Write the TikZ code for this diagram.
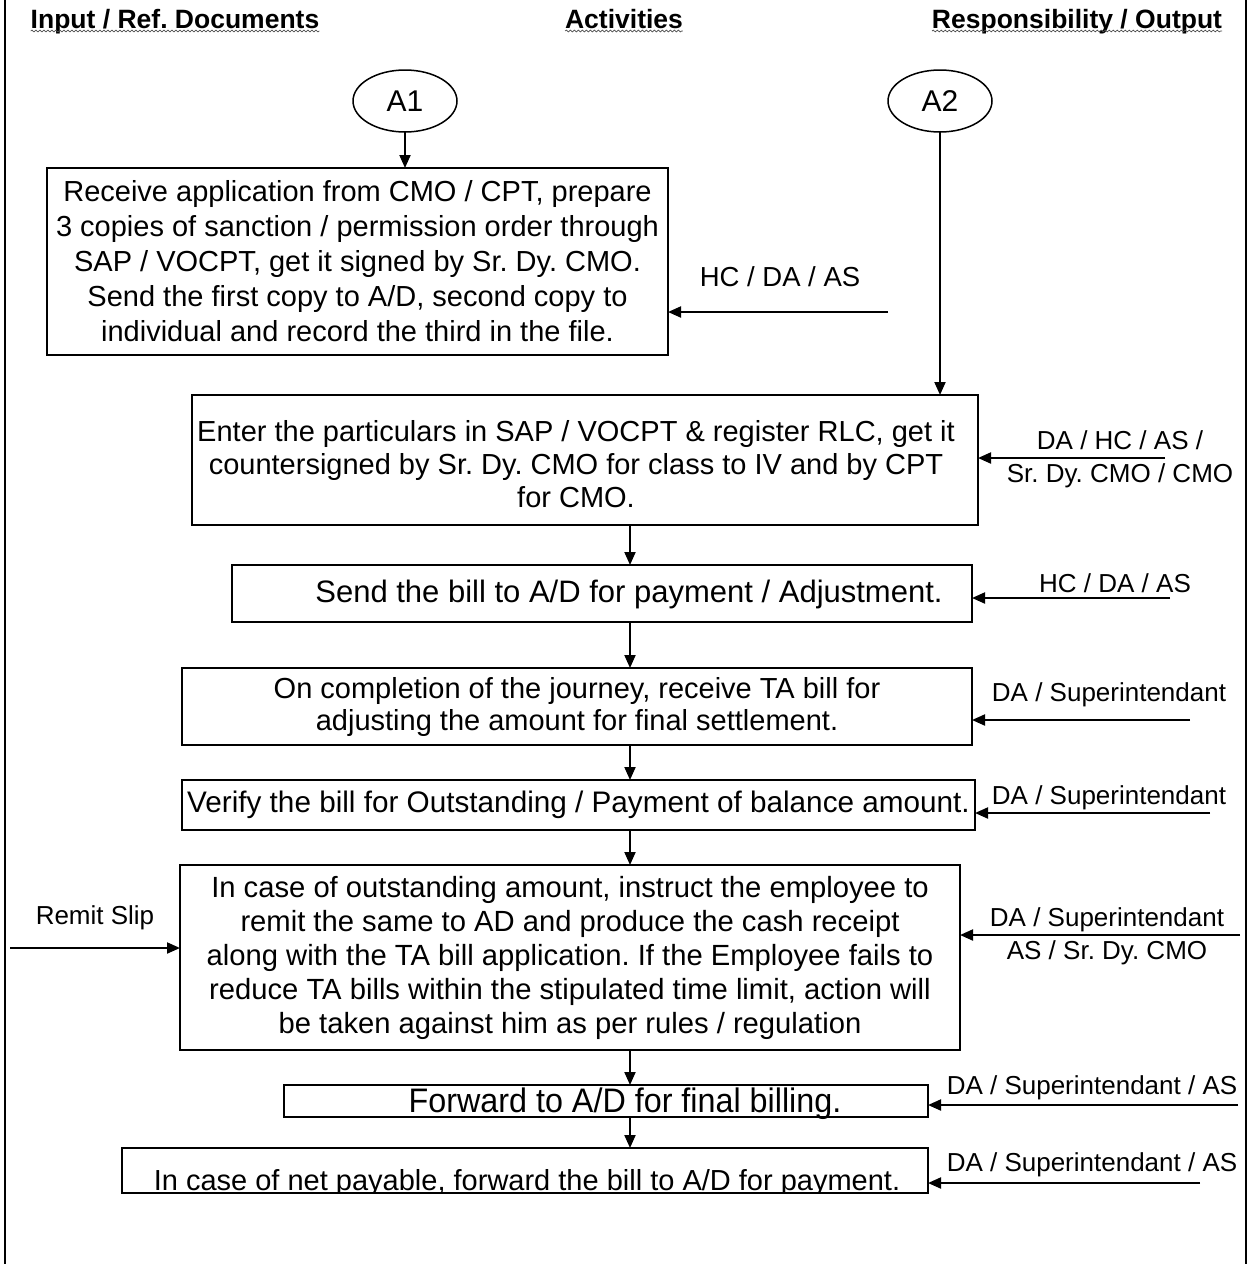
\documentclass[tikz,border=0pt]{standalone}
\usepackage{fontspec}
\setmainfont{Liberation Sans}
\newfontfamily\narrowsans{Liberation Sans}[FakeStretch=0.95]
\usetikzlibrary{arrows.meta,shapes.geometric,decorations.pathmorphing}

\begin{document}
\frenchspacing
\begin{tikzpicture}[x=1pt,y=-1pt,
  every node/.style={inner sep=0pt, outer sep=0pt},
  stepbox/.style={draw, line width=1.5pt, align=center, font=\fontsize{29}{33}\selectfont},
  steptext/.style={align=center, font=\fontsize{29}{33}\selectfont},
  lbl/.style={font=\fontsize{26}{33}\selectfont, align=center},
  hdr/.style={font=\bfseries\fontsize{26.5}{30}\selectfont},
  arr/.style={line width=2pt, -{Triangle[length=13pt,width=11pt]}},
  conn/.style={draw, ellipse, line width=1.5pt, minimum width=104pt, minimum height=62pt, font=\fontsize{30}{34}\selectfont},
  squiggle/.style={decorate, decoration={snake, amplitude=0.9pt, segment length=4pt}, line width=0.7pt, black!70}
]
\useasboundingbox (0,0) rectangle (1255,1264);

% page frame
\draw[line width=2.5pt] (5,0) -- (5,1264);
\draw[line width=2.5pt] (1246,0) -- (1246,1264);

% column headings
\node[hdr, anchor=base] (h1) at (175,28) {Input / Ref. Documents};
\node[hdr, anchor=base] (h2) at (624,28) {Activities};
\node[hdr, anchor=base] (h3) at (1077,28) {Responsibility / Output};
\foreach \h in {h1,h2,h3}
  \draw[squiggle] ([yshift=-3pt]\h.base west) -- ([yshift=-3pt]\h.base east);

% connectors
\node[conn] (A1) at (405,101) {A1};
\node[conn] (A2) at (940,101) {A2};

% process steps
\node[stepbox, font=\fontsize{29}{35}\selectfont, minimum width=621pt, minimum height=187pt] (b1) at (357.5,261.5)
  {Receive application from CMO / CPT, prepare\\
   3 copies of sanction / permission order through\\
   SAP / VOCPT, get it signed by Sr. Dy. CMO.\\
   Send the first copy to A/D, second copy to\\
   individual and record the third in the file.};

\node[stepbox, minimum width=786pt, minimum height=130pt] (b2) at (585,460) {};
\node[steptext] (t2) at (576,464)
  {Enter the particulars in SAP / VOCPT \& register RLC, get it\\
   countersigned by Sr. Dy. CMO for class to IV and by CPT\\
   for CMO.};

\node[stepbox, minimum width=740pt, minimum height=57pt] (b3) at (602,593.5) {};
\node[steptext, font=\fontsize{31}{33}\selectfont] (t3) at (629,594)
  {Send the bill to A/D for payment / Adjustment.};

\node[stepbox, font=\fontsize{29}{32}\selectfont, minimum width=790pt, minimum height=77pt] (b4) at (577,706.5)
  {On completion of the journey, receive TA bill for\\
   adjusting the amount for final settlement.};
\node[stepbox, font=\fontsize{29.7}{33}\selectfont, minimum width=793pt, minimum height=50pt] (b5) at (578.5,805)
  {Verify the bill for Outstanding / Payment of balance amount.};
\node[stepbox, font=\fontsize{29.2}{34}\selectfont, minimum width=780pt, minimum height=185pt] (b6) at (570,957.5)
  {In case of outstanding amount, instruct the employee to\\
   remit the same to AD and produce the cash receipt\\
   along with the TA bill application. If the Employee fails to\\
   reduce TA bills within the stipulated time limit, action will\\
   be taken against him as per rules / regulation};

\node[stepbox, minimum width=644pt, minimum height=32pt] (b7) at (606,1101) {};
\node[font=\narrowsans\fontsize{34}{36}\selectfont, anchor=base] (t7) at (625,1112)
  {Forward to A/D for final billing.};

\node[stepbox, minimum width=806pt, minimum height=45pt] (b8) at (525,1170.5) {};
\begin{scope}
  \clip (b8.south west) rectangle (b8.north east);
  \node[font=\fontsize{29}{33}\selectfont, anchor=base] (t8) at (527,1190)
    {In case of net payable, forward the bill to A/D for payment.};
\end{scope}

% main flow
\coordinate (spine) at (630,0);
\draw[arr] (A1.south) -- (A1.south |- b1.north);
\draw[arr] (A2.south) -- (A2.south |- b2.north);
\draw[arr] (b2.south -| spine) -- (b3.north -| spine);
\draw[arr] (b3.south -| spine) -- (b4.north -| spine);
\draw[arr] (b4.south -| spine) -- (b5.north -| spine);
\draw[arr] (b5.south -| spine) -- (b6.north -| spine);
\draw[arr] (b6.south -| spine) -- (b7.north -| spine);
\draw[arr] (b7.south -| spine) -- (b8.north -| spine);

% responsibility inputs
\coordinate (r1) at (888,312);
\node[lbl, font=\fontsize{27.5}{33}\selectfont] (l1) at (780,277) {HC / DA / AS};
\draw[arr] (r1) -- (r1 -| b1.east);

\coordinate (r2) at (1165,458);
\node[lbl] (l2) at (1120,459) {DA / HC / AS /\\Sr. Dy. CMO / CMO};
\draw[arr] (r2) -- (r2 -| b2.east);

\coordinate (r3) at (1170,598);
\node[lbl] (l3) at (1115,583) {HC / DA / AS};
\draw[arr] (r3) -- (r3 -| b3.east);

\coordinate (r4) at (1190,720);
\node[lbl] (l4) at (1109,695) {DA / Superintendant};
\draw[arr] (r4) -- (r4 -| b4.east);

\coordinate (r5) at (1210,813);
\node[lbl] (l5) at (1109,798) {DA / Superintendant};
\draw[arr] (r5) -- (r5 -| b5.east);

\coordinate (r6) at (1240,935);
\node[lbl] (l6) at (1107,936) {DA / Superintendant\\AS / Sr. Dy. CMO};
\draw[arr] (r6) -- (r6 -| b6.east);

\coordinate (r7) at (1238,1105);
\node[lbl] (l7) at (1092,1088) {DA / Superintendant / AS};
\draw[arr] (r7) -- (r7 -| b7.east);

\coordinate (r8) at (1200,1183);
\node[lbl] (l8) at (1092,1165) {DA / Superintendant / AS};
\draw[arr] (r8) -- (r8 -| b8.east);

% reference input
\coordinate (s1) at (10,948);
\node[lbl] (l9) at (95,918) {Remit Slip};
\draw[arr] (s1) -- (s1 -| b6.west);

\end{tikzpicture}
\end{document}
